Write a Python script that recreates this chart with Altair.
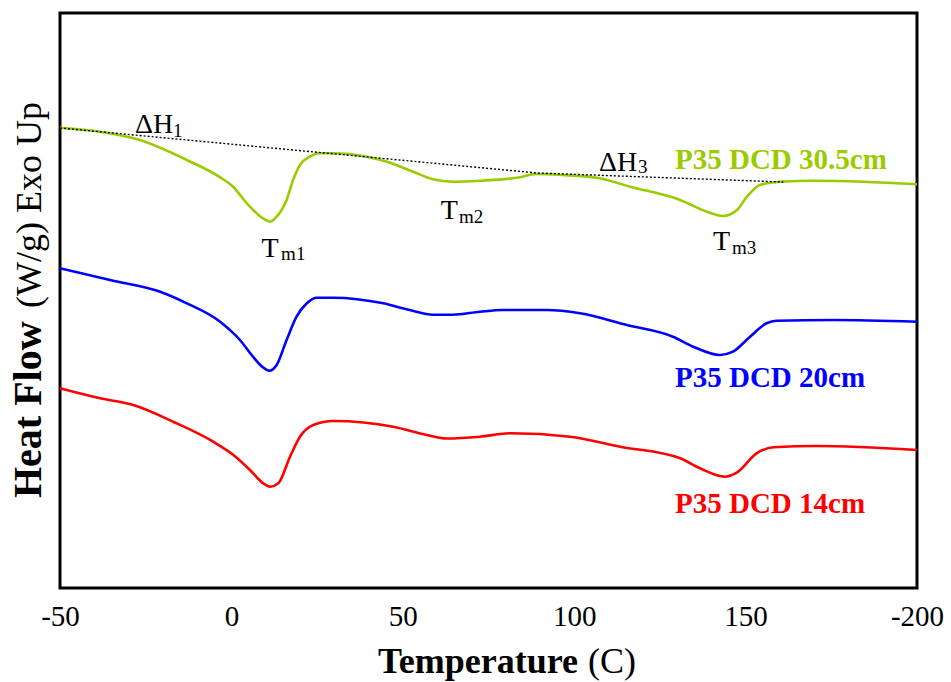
import altair as alt
import pandas as pd

# DSC heat-flow traces (temperature in C, heat flow in W/g, curves offset vertically)
temp_305 = [-50, -38.3, -26.7, -13, -3.3, 0.5, 4.5, 9.2, 11.3, 13.2, 16.1, 18, 20, 22.9, 25.8,
            29.7, 39.5, 45.4, 53, 58.8, 64.6, 72.5, 84.2, 88.6, 96.7, 106.6, 116.3, 130.9,
            138.7, 143.4, 147.5, 150.4, 154.2, 160, 169.7, 184.3, 200]
hf_305 = [4.603, 4.563, 4.48, 4.28, 4.107, 4.013, 3.847, 3.697, 3.663, 3.713, 3.88, 4.08, 4.23,
          4.313, 4.347, 4.347, 4.313, 4.263, 4.163, 4.087, 4.063, 4.073, 4.107, 4.14, 4.13,
          4.103, 4.013, 3.88, 3.763, 3.72, 3.78, 3.913, 4.03, 4.063, 4.073, 4.063, 4.037]

temp_20 = [-50, -35.4, -20.8, -13, -3.3, 2.5, 6.3, 9.2, 11.1, 13.2, 16.1, 19, 22, 24.9, 29.7,
           44.3, 52, 58.8, 64.6, 72.5, 79.2, 92, 101.7, 115.4, 128.8, 134.7, 142.5, 146.3,
           151.3, 156.1, 159, 175.6, 200]
hf_20 = [3.197, 3.08, 2.963, 2.847, 2.663, 2.48, 2.313, 2.207, 2.173, 2.23, 2.48, 2.713, 2.847,
         2.903, 2.903, 2.847, 2.78, 2.733, 2.733, 2.763, 2.78, 2.78, 2.747, 2.63, 2.513, 2.413,
         2.33, 2.363, 2.513, 2.647, 2.673, 2.68, 2.663]

temp_14 = [-50, -38.3, -28.6, -17, -5.3, 0.6, 5.4, 9.3, 11.3, 13.7, 17.1, 20, 23.9, 29.7, 47.2,
           57, 62.8, 72.5, 81.3, 98.8, 113.4, 130.9, 136.7, 144, 147.4, 153.2, 158.1, 170.7, 200]
hf_14 = [1.997, 1.897, 1.83, 1.663, 1.463, 1.33, 1.18, 1.047, 1.013, 1.047, 1.313, 1.513, 1.63,
         1.67, 1.613, 1.53, 1.495, 1.513, 1.547, 1.513, 1.413, 1.297, 1.197, 1.113, 1.153, 1.347,
         1.407, 1.42, 1.38]

samples = ["P35 DCD 30.5cm", "P35 DCD 20cm", "P35 DCD 14cm"]
colors = ["#99CC00", "#0000FF", "#FF0000"]
label_temp = [129.4, 129.4, 129.4]
label_hf = [4.187, 2.013, 0.753]

# enthalpy baseline (dotted) under the 30.5cm trace
base_temp = [-50, 89.2, 161]
base_hf = [4.60, 4.15, 4.06]

# peak / enthalpy annotations: main symbol and its subscript
ann_main = ["\u0394H", "\u0394H", "T", "T", "T"]
ann_sub = ["1", "3", "m1", "m2", "m3"]
ann_temp = [-28.1, 107.2, 8.8, 61.1, 140.5]
ann_hf = [4.547, 4.173, 3.313, 3.69, 3.38]
sub_temp = [-17.0, 118.6, 14.5, 66.4, 146.0]
sub_hf = [4.513, 4.153, 3.28, 3.655, 3.34]

tick_values = [-50, 0, 50, 100, 150, 200]
tick_labels = ["-50", "0", "50", "100", "150", "-200"]
x_title = ["Temperature", "(C)"]
y_title = ["Heat Flow", "(W/g) Exo Up"]

SERIF = "Liberation Serif"

curves = pd.concat([
    pd.DataFrame({"temp": t, "hf": h, "sample": s})
    for t, h, s in zip([temp_305, temp_20, temp_14], [hf_305, hf_20, hf_14], samples)
])
labels = pd.DataFrame({"temp": label_temp, "hf": label_hf, "sample": samples})
baseline = pd.DataFrame({"temp": base_temp, "hf": base_hf})
ann = pd.DataFrame({"temp": ann_temp, "hf": ann_hf, "txt": ann_main})
ann_s = pd.DataFrame({"temp": sub_temp, "hf": sub_hf, "txt": ann_sub})

label_expr = "".join(f"datum.value === {v} ? '{l}' : " for v, l in zip(tick_values, tick_labels)) + "''"

x_enc = alt.X("temp:Q", scale=alt.Scale(domain=[-50, 200], nice=False, zero=False),
              axis=alt.Axis(values=tick_values, labelExpr=label_expr, title=None,
                            ticks=False, domain=False, grid=False, labelFlush=False,
                            labelFont=SERIF, labelFontSize=29, labelColor="black",
                            labelPadding=14))
y_enc = alt.Y("hf:Q", scale=alt.Scale(domain=[0, 5.75], nice=False, zero=False), axis=None)
color_enc = alt.Color("sample:N", scale=alt.Scale(domain=samples, range=colors), legend=None)

lines = alt.Chart(curves).mark_line(strokeWidth=2.6, interpolate="monotone").encode(
    x=x_enc, y=y_enc, color=color_enc, detail="sample:N"
)

dotted = alt.Chart(baseline).mark_line(color="black", strokeWidth=1.4, strokeDash=[2, 2]).encode(
    x="temp:Q", y="hf:Q"
)

series_text = alt.Chart(labels).mark_text(
    align="left", baseline="alphabetic", font=SERIF, fontSize=29, fontWeight="bold"
).encode(x="temp:Q", y="hf:Q", text="sample:N", color=color_enc)

ann_text = alt.Chart(ann).mark_text(
    align="left", baseline="alphabetic", font=SERIF, fontSize=28, color="black"
).encode(x="temp:Q", y="hf:Q", text="txt:N")

ann_sub_text = alt.Chart(ann_s).mark_text(
    align="left", baseline="alphabetic", font=SERIF, fontSize=19, color="black"
).encode(x="temp:Q", y="hf:Q", text="txt:N")

# axis titles mixing bold and regular type
xt_bold = alt.Chart(pd.DataFrame({"t": [x_title[0]]})).mark_text(
    align="right", baseline="alphabetic", font=SERIF, fontSize=36, fontWeight="bold", color="black"
).encode(text="t:N", x=alt.value(518), y=alt.value(660))
xt_reg = alt.Chart(pd.DataFrame({"t": [x_title[1]]})).mark_text(
    align="left", baseline="alphabetic", font=SERIF, fontSize=36, color="black"
).encode(text="t:N", x=alt.value(528), y=alt.value(660))

yt_bold = alt.Chart(pd.DataFrame({"t": [y_title[0]]})).mark_text(
    align="left", baseline="alphabetic", font=SERIF, fontSize=40, fontWeight="bold",
    color="black", angle=270
).encode(text="t:N", x=alt.value(-19), y=alt.value(485))
yt_reg = alt.Chart(pd.DataFrame({"t": [y_title[1]]})).mark_text(
    align="left", baseline="alphabetic", font=SERIF, fontSize=36, color="black", angle=270
).encode(text="t:N", x=alt.value(-19), y=alt.value(295))

chart = alt.layer(
    lines, dotted, series_text, ann_text, ann_sub_text, xt_bold, xt_reg, yt_bold, yt_reg
).properties(
    width=857, height=575,
    background="white",
    autosize=alt.AutoSizeParams(type="none"),
    padding={"left": 60, "top": 13, "right": 34, "bottom": 94},
).configure_view(
    stroke="black", strokeWidth=3
)

chart.save("out.html", embed_options={"renderer": "svg", "actions": False})
